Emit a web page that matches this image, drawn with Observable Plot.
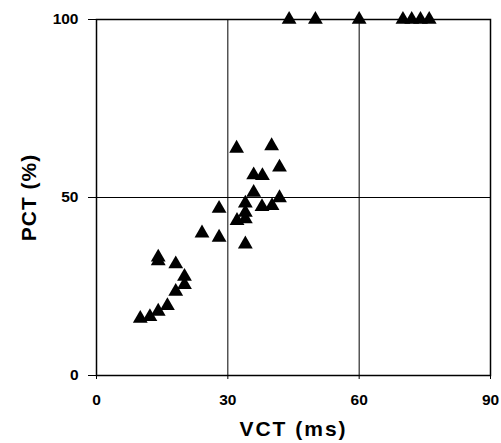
<!DOCTYPE html>
<html>
<head>
<meta charset="utf-8">
<script src="https://cdn.jsdelivr.net/npm/d3@7"></script>
<script src="https://cdn.jsdelivr.net/npm/@observablehq/plot@0.6"></script>
<style>
  html, body { margin: 0; padding: 0; background: white; }
</style>
</head>
<body>
<div id="chart"></div>
<script>
const vct = [32, 40, 41.8, 35.9, 37.9, 35.9, 41.8, 34, 37.8, 40.1, 28, 34, 34, 32.1, 24.1, 28, 34,
             14.1, 14.1, 18.1, 20.1, 20.1, 18.1, 16.2, 14.1, 12.2, 10,
             44, 50, 60, 70, 72, 74, 76];
const pct = [63.8, 64.5, 58.5, 56.3, 56.1, 51.4, 49.9, 48.4, 47.4, 47.7, 46.9, 45.8, 44, 43.5, 40, 38.8, 36.9,
             33.2, 32.2, 31.3, 27.8, 25.5, 23.6, 19.6, 18, 16.5, 16,
             100, 100, 100, 100, 100, 100, 100];
const xTicks = [0, 30, 60, 90];
const yTicks = [0, 50, 100];
const xGrid = [30, 60];
const yGrid = [50];
const xTitle = "VCT (ms)";
const yTitle = "PCT (%)";

const data = vct.map((v, i) => ({vct: v, pct: pct[i]}));

const chart = Plot.plot({
  width: 501,
  height: 443,
  marginLeft: 96,
  marginRight: 11,
  marginTop: 19,
  marginBottom: 68,
  x: {domain: [0, 90]},
  y: {domain: [0, 100]},
  style: {fontFamily: "Liberation Sans, Arial, sans-serif", fontSize: "15.5px", fontWeight: "bold", color: "black", background: "white"},
  marks: [
    Plot.gridX(xGrid, {stroke: "black", strokeOpacity: 1, strokeWidth: 1}),
    Plot.gridY(yGrid, {stroke: "black", strokeOpacity: 1, strokeWidth: 1}),
    Plot.frame({stroke: "black", strokeWidth: 1.5}),
    Plot.axisX({ticks: xTicks, tickSize: 4, tickPadding: 14, label: xTitle, labelAnchor: "center", labelOffset: 60, labelArrow: "none"}),
    Plot.axisY({ticks: yTicks, tickSize: 8, tickPadding: 10, label: yTitle, labelAnchor: "center", labelOffset: 75, labelArrow: "none"}),
    Plot.dot(data, {x: "vct", y: "pct", symbol: "triangle", r: 5.5, fill: "black", stroke: "none"})
  ]
});

d3.select(chart).selectAll('g[aria-label="x-axis label"] text')
  .style("font-size", "21px").style("font-weight", "bold").style("letter-spacing", "2px");
d3.select(chart).selectAll('g[aria-label="y-axis label"] text')
  .style("font-size", "21px").style("font-weight", "bold").style("letter-spacing", "1px");
document.getElementById("chart").appendChild(chart);
</script>
</body>
</html>
